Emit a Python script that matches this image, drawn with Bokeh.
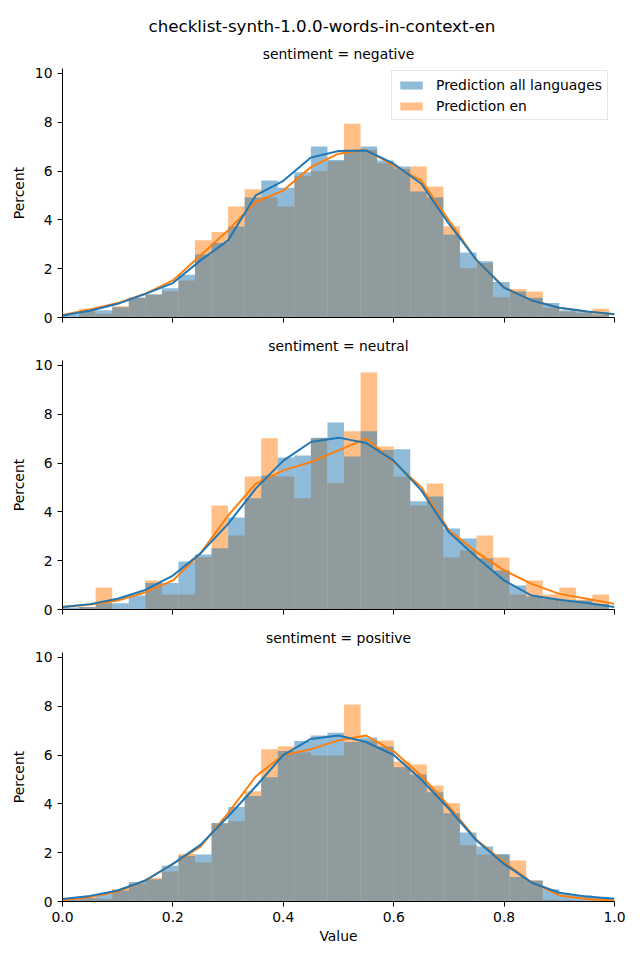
from bokeh.plotting import figure
from bokeh.models import (Range1d, FixedTicker, PrintfTickFormatter, CustomJSTickFormatter,
                          Legend, LegendItem, Title, ColumnDataSource)
from bokeh.layouts import column
from bokeh.embed import file_html
from bokeh.resources import INLINE

FONT = "DejaVu Sans"
BLUE = "#1f77b4"
ORANGE = "#ff7f0e"

suptitle = "checklist-synth-1.0.0-words-in-context-en"
panel_titles = ["sentiment = negative", "sentiment = neutral", "sentiment = positive"]
series_names = ["Prediction all languages", "Prediction en"]

bin_edges = [0.00, 0.03, 0.06, 0.09, 0.12, 0.15, 0.18, 0.21, 0.24, 0.27, 0.30, 0.33,
             0.36, 0.39, 0.42, 0.45, 0.48, 0.51, 0.54, 0.57, 0.60, 0.63, 0.66, 0.69,
             0.72, 0.75, 0.78, 0.81, 0.84, 0.87, 0.90, 0.93, 0.96, 0.99]

# histogram percentages per bin
neg_all = [0.13, 0.26, 0.30, 0.42, 0.82, 0.95, 1.20, 1.75, 2.58, 3.05, 3.73, 4.92, 5.61, 5.31, 5.95, 7.00, 6.45,
           6.87, 7.00, 6.43, 6.19, 5.16, 4.93, 3.40, 2.66, 2.30, 1.45, 1.07, 0.81, 0.59, 0.30, 0.25, 0.12]
neg_en = [0.02, 0.36, 0.15, 0.46, 0.80, 0.93, 1.08, 1.52, 3.16, 3.50, 4.55, 5.25, 4.92, 4.55, 5.80, 6.00, 6.40,
          7.94, 6.87, 6.32, 6.08, 6.19, 5.37, 3.74, 2.02, 2.23, 0.83, 1.17, 1.07, 0.40, 0.25, 0.18, 0.36]
neu_all = [0.08, 0.10, 0.26, 0.26, 0.57, 1.09, 1.09, 1.97, 2.25, 2.51, 3.77, 4.56, 5.49, 6.23, 6.31, 7.04, 7.66,
           6.27, 7.30, 6.53, 6.56, 4.43, 4.63, 3.32, 2.91, 2.10, 1.60, 0.98, 0.53, 0.44, 0.37, 0.37, 0.23]
neu_en = [0.00, 0.10, 0.90, 0.00, 0.00, 1.19, 0.61, 0.61, 2.14, 4.26, 3.03, 5.45, 7.01, 5.45, 4.56, 7.02, 5.18,
          7.30, 9.71, 6.68, 5.45, 4.26, 5.16, 2.13, 2.42, 3.03, 2.13, 0.61, 1.19, 0.61, 0.90, 0.40, 0.61]
pos_all = [0.10, 0.15, 0.31, 0.45, 0.80, 0.91, 1.46, 1.87, 1.93, 3.22, 3.87, 4.32, 5.09, 6.16, 6.57, 6.80, 6.91,
           6.53, 6.72, 6.35, 5.50, 5.20, 4.48, 3.62, 2.83, 2.25, 1.95, 1.00, 0.86, 0.50, 0.30, 0.25, 0.15]
pos_en = [0.05, 0.15, 0.11, 0.50, 0.72, 0.97, 1.23, 1.95, 1.60, 3.20, 3.29, 4.52, 6.24, 6.36, 6.10, 5.98, 5.98,
          8.07, 6.60, 6.60, 5.74, 5.61, 4.75, 4.03, 2.30, 1.93, 1.90, 1.68, 0.86, 0.07, 0.05, 0.03, 0.05]

# density curves
kde_x = [0.00, 0.05, 0.10, 0.15, 0.20, 0.25, 0.30, 0.35, 0.40, 0.45, 0.50,
         0.55, 0.60, 0.65, 0.70, 0.75, 0.80, 0.85, 0.90, 0.95, 1.00]
neg_all_kde = [0.08, 0.28, 0.56, 0.97, 1.41, 2.34, 3.16, 5.00, 5.60, 6.55, 6.82,
               6.84, 6.30, 5.48, 3.84, 2.36, 1.22, 0.70, 0.40, 0.25, 0.13]
neg_en_kde = [0.10, 0.33, 0.59, 0.97, 1.52, 2.54, 3.57, 4.73, 5.20, 6.16, 6.71,
              6.87, 6.23, 5.61, 3.98, 2.34, 1.24, 0.70, 0.40, 0.25, 0.13]
neu_all_kde = [0.10, 0.22, 0.44, 0.80, 1.39, 2.30, 3.51, 4.95, 6.10, 6.86, 7.04,
               6.82, 6.10, 4.88, 3.17, 2.14, 1.19, 0.57, 0.40, 0.27, 0.10]
neu_en_kde = [0.10, 0.20, 0.37, 0.70, 1.19, 2.30, 3.85, 5.15, 5.70, 6.04, 6.52,
              7.00, 6.04, 5.01, 3.24, 2.35, 1.60, 1.05, 0.64, 0.44, 0.23]
pos_all_kde = [0.10, 0.23, 0.45, 0.86, 1.54, 2.32, 3.48, 4.71, 6.00, 6.66, 6.80,
               6.53, 6.00, 5.00, 3.80, 2.50, 1.54, 0.77, 0.36, 0.20, 0.11]
pos_en_kde = [0.05, 0.18, 0.41, 0.85, 1.54, 2.25, 3.62, 5.12, 6.00, 6.24, 6.60,
              6.80, 6.15, 5.15, 3.90, 2.53, 1.61, 0.79, 0.25, 0.10, 0.04]

x_ticks = [0.0, 0.2, 0.4, 0.6, 0.8, 1.0]
y_ticks = [0, 2, 4, 6, 8, 10]

panels = [
    (panel_titles[0], neg_all, neg_en, neg_all_kde, neg_en_kde),
    (panel_titles[1], neu_all, neu_en, neu_all_kde, neu_en_kde),
    (panel_titles[2], pos_all, pos_en, pos_all_kde, pos_en_kde),
]

heights = [328, 292, 335]
tops = [68, 32, 32]
bottoms = [11, 11, 54]


def style_title(t, size, standoff):
    t.text_font = FONT
    t.text_font_size = size
    t.text_font_style = "normal"
    t.text_color = "black"
    t.standoff = standoff


figs = []
for i, (ptitle, h_all, h_en, k_all, k_en) in enumerate(panels):
    p = figure(width=640, height=heights[i], x_range=Range1d(0, 1), y_range=Range1d(0, 10.2),
               output_backend="svg", toolbar_location=None,
               min_border_left=62, min_border_right=26,
               min_border_top=tops[i], min_border_bottom=bottoms[i])
    p.outline_line_color = None
    p.grid.visible = False
    p.background_fill_color = "white"
    p.border_fill_color = "white"

    if i == 0:
        p.title.text = suptitle
        p.title.align = "left"
        p.title.offset = 86
        style_title(p.title, "16.7px", 2)
        sub = Title(text=ptitle, align="center")
        style_title(sub, "13.9px", 14)
        p.add_layout(sub, "above")
    else:
        p.title.text = ptitle
        p.title.align = "center"
        style_title(p.title, "13.9px", 14)

    src = ColumnDataSource(dict(left=bin_edges[:-1], right=bin_edges[1:], a=h_all, e=h_en))
    r_en = p.quad(left="left", right="right", bottom=0, top="e", source=src,
                  fill_color=ORANGE, fill_alpha=0.5, line_color=None)
    r_all = p.quad(left="left", right="right", bottom=0, top="a", source=src,
                   fill_color=BLUE, fill_alpha=0.5, line_color=None)
    p.line(kde_x, k_en, line_color=ORANGE, line_width=2)
    p.line(kde_x, k_all, line_color=BLUE, line_width=2)

    for ax in (p.xaxis[0], p.yaxis[0]):
        ax.axis_line_color = "black"
        ax.axis_line_width = 1
        ax.major_tick_line_color = "black"
        ax.major_tick_line_width = 1
        ax.major_tick_out = 5
        ax.major_tick_in = 0
        ax.minor_tick_line_color = None
        ax.major_label_text_font = FONT
        ax.major_label_text_font_size = "13.9px"
        ax.major_label_text_color = "black"
        ax.major_label_standoff = 5
        ax.axis_label_text_font = FONT
        ax.axis_label_text_font_size = "13.9px"
        ax.axis_label_text_font_style = "normal"
        ax.axis_label_text_color = "black"

    p.xaxis.ticker = FixedTicker(ticks=x_ticks)
    p.yaxis.ticker = FixedTicker(ticks=y_ticks)
    p.yaxis.formatter = PrintfTickFormatter(format="%d")
    p.yaxis.axis_label = "Percent"
    p.yaxis.axis_label_standoff = 5
    if i == 2:
        p.xaxis.formatter = PrintfTickFormatter(format="%.1f")
        p.xaxis.axis_label = "Value"
        p.xaxis.axis_label_standoff = 3
    else:
        p.xaxis.formatter = CustomJSTickFormatter(code="return ''")
        p.xaxis.major_label_standoff = 0

    if i == 0:
        legend = Legend(items=[LegendItem(label=series_names[0], renderers=[r_all]),
                               LegendItem(label=series_names[1], renderers=[r_en])],
                        location=(329, 197))
        legend.label_text_font = FONT
        legend.label_text_font_size = "13.9px"
        legend.label_text_color = "black"
        legend.glyph_width = 28
        legend.glyph_height = 10
        legend.label_standoff = 11
        legend.label_height = 17
        legend.padding = 5
        legend.spacing = 4
        legend.margin = 0
        legend.border_line_color = "#cccccc"
        legend.border_line_width = 1
        legend.background_fill_color = "white"
        legend.background_fill_alpha = 0.8
        p.add_layout(legend)

    figs.append(p)

layout = column(*figs, spacing=0)
open("out.html", "w").write(file_html(layout, INLINE))
